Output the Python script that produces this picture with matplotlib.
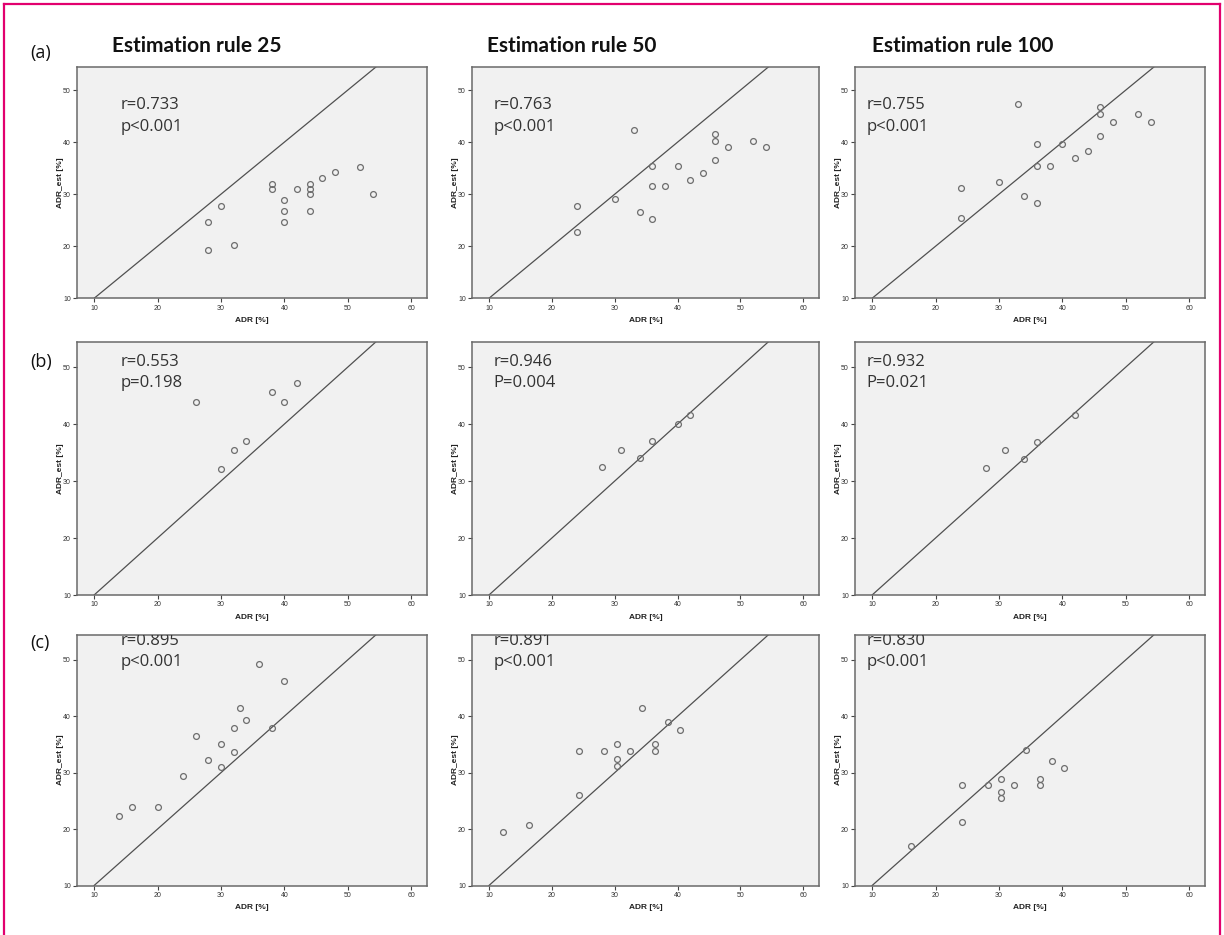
import matplotlib
matplotlib.use("Agg")
import matplotlib.pyplot as plt
from matplotlib.lines import Line2D

# ---------------- data ----------------
col_titles = ["Estimation rule 25", "Estimation rule 50", "Estimation rule 100"]
row_labels = ["(a)", "(b)", "(c)"]

a25_x = [28, 28, 30, 32, 38, 38, 40, 40, 40, 42, 44, 44, 44, 44, 46, 48, 52, 54]
a25_y = [24.6, 19.2, 27.8, 20.3, 32.0, 31.0, 28.9, 26.7, 24.6, 31.0, 32.0, 31.0, 30.0, 26.7, 33.1, 34.2, 35.3, 30.0]
a50_x = [24, 24, 30, 33, 34, 36, 36, 36, 38, 40, 42, 44, 46, 46, 46, 48, 52, 54]
a50_y = [27.8, 22.8, 29.1, 42.3, 26.5, 35.35, 31.6, 25.3, 31.6, 35.35, 32.8, 34.1, 41.6, 40.3, 36.6, 39.1, 40.3, 39.1]
a100_x = [24, 24, 30, 33, 34, 36, 36, 36, 38, 40, 42, 44, 46, 46, 46, 48, 52, 54]
a100_y = [31.15, 25.5, 32.4, 47.4, 29.7, 39.7, 35.5, 28.3, 35.5, 39.7, 36.9, 38.3, 46.7, 45.35, 41.1, 43.9, 45.35, 43.9]

b25_x = [26, 30, 32, 34, 38, 40, 42]
b25_y = [43.9, 32.1, 35.5, 37.1, 45.6, 43.9, 47.3]
b50_x = [28, 31, 34, 36, 40, 42]
b50_y = [32.4, 35.5, 34.0, 37.0, 40.0, 41.6]
b100_x = [28, 31, 34, 36, 42]
b100_y = [32.3, 35.4, 33.9, 36.9, 41.6]

c25_x = [14, 16, 20, 24, 26, 28, 30, 30, 32, 32, 33, 34, 36, 38, 40]
c25_y = [22.3, 23.9, 23.9, 29.5, 36.5, 32.3, 35.1, 30.95, 37.9, 33.7, 41.4, 39.3, 49.2, 37.9, 46.3]
c50_x = [12.3, 16.3, 24.3, 24.3, 28.3, 30.3, 30.3, 30.3, 32.4, 34.4, 36.4, 36.4, 38.5, 40.4]
c50_y = [19.5, 20.8, 33.8, 26.1, 33.8, 35.1, 32.5, 31.2, 33.8, 41.5, 35.1, 33.8, 38.9, 37.6]
c100_x = [16.2, 24.2, 24.2, 28.3, 30.3, 30.3, 30.3, 32.3, 34.3, 36.4, 36.4, 38.3, 40.3]
c100_y = [17.0, 27.75, 21.2, 27.75, 28.8, 26.6, 25.6, 27.75, 34.1, 28.8, 27.75, 32.0, 30.9]

r_texts = [["r=0.733", "r=0.763", "r=0.755"],
           ["r=0.553", "r=0.946", "r=0.932"],
           ["r=0.895", "r=0.891", "r=0.830"]]
p_texts = [["p<0.001", "p<0.001", "p<0.001"],
           ["p=0.198", "P=0.004", "P=0.021"],
           ["p<0.001", "p<0.001", "p<0.001"]]

x_ticks = [10, 20, 30, 40, 50, 60]
y_ticks = [10, 20, 30, 40, 50]

panels = [[(a25_x, a25_y), (a50_x, a50_y), (a100_x, a100_y)],
          [(b25_x, b25_y), (b50_x, b50_y), (b100_x, b100_y)],
          [(c25_x, c25_y), (c50_x, c50_y), (c100_x, c100_y)]]

# ---------------- layout ----------------
W, H = 1224, 935
fig = plt.figure(figsize=(W / 100, H / 100), dpi=100)
fig.patch.set_facecolor("white")

col_left = [77, 472, 855]
col_w = [350, 347, 350]
row_top = [66.7, 341.5, 634.5]
row_h = [231.6, 253.5, 251.0]

txt_x = [0.126, 0.061, 0.032]
r_y = [0.835, 0.921, 0.973]
p_y = [0.741, 0.836, 0.890]

edge = "#6e6e6e"
for i in range(3):
    for j in range(3):
        l, t, w, h = col_left[j], row_top[i], col_w[j], row_h[i]
        ax = fig.add_axes([l / W, 1 - (t + h) / H, w / W, h / H])
        ax.set_facecolor("#f1f1f1")
        xs, ys = panels[i][j]
        ax.axline((10, 10), slope=1, color="#505050", lw=0.9, zorder=2)
        ax.plot(xs, ys, "o", mfc="none", mec=edge, ms=4.2, mew=0.9, zorder=3)
        ax.set_xlim(7.3, 62.5)
        ax.set_ylim(10, 54.5)
        ax.set_xticks(x_ticks)
        ax.set_yticks(y_ticks)
        for s in ax.spines.values():
            s.set_color("#6a6a6a")
            s.set_linewidth(1.1)
        ax.tick_params(length=3, width=0.8, pad=1.5, labelsize=5,
                       colors="#444444", labelcolor="#333333")
        for lab in ax.get_xticklabels() + ax.get_yticklabels():
            lab.set_family("Liberation Sans")
        ax.set_xlabel("ADR [%]", fontsize=6, fontweight="bold",
                      family="Liberation Sans", color="#222222", labelpad=4)
        ax.set_ylabel("ADR_est [%]", fontsize=6, fontweight="bold",
                      family="Liberation Sans", color="#222222")
        ax.yaxis.set_label_coords(-0.037, 0.5)
        ax.text(txt_x[j], r_y[i], r_texts[i][j], transform=ax.transAxes,
                fontsize=12, family="Open Sans", color="#333333",
                ha="left", va="center", clip_on=True)
        ax.text(txt_x[j], p_y[i], p_texts[i][j], transform=ax.transAxes,
                fontsize=12, family="Open Sans", color="#333333",
                ha="left", va="center", clip_on=True)

# column titles
title_x = [112, 487, 872]
for j in range(3):
    fig.text(title_x[j] / W, 1 - 46 / H, col_titles[j], fontsize=15,
             fontweight="bold", family="Lato", color="#111111",
             ha="left", va="center")

# row labels
row_lab_y = [53, 362, 643]
for i in range(3):
    fig.text(30 / W, 1 - row_lab_y[i] / H, row_labels[i], fontsize=13,
             family="Open Sans", color="#111111", ha="left", va="center")

# pink frame
pink = "#e2006e"
fig.add_artist(Line2D([4 / W, 4 / W], [0, 1 - 4 / H], color=pink, lw=1.6,
                      transform=fig.transFigure))
fig.add_artist(Line2D([4 / W, 1220 / W], [1 - 4 / H, 1 - 4 / H], color=pink,
                      lw=1.6, transform=fig.transFigure))
fig.add_artist(Line2D([1220 / W, 1220 / W], [0, 1 - 4 / H], color=pink,
                      lw=1.6, transform=fig.transFigure))

fig.savefig("out.png", dpi=100, facecolor="white")
